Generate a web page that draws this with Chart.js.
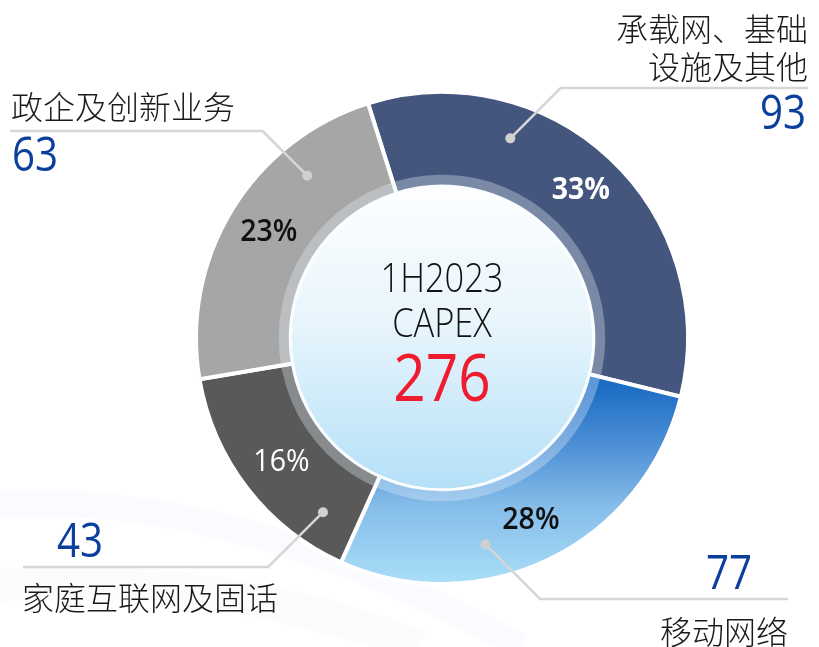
<!DOCTYPE html>
<html>
<head>
<meta charset="utf-8">
<script src="https://cdn.jsdelivr.net/npm/chart.js@4/dist/chart.umd.min.js"></script>
<style>
  html, body { margin: 0; padding: 0; background: #ffffff; }
  #wrap { position: relative; width: 819px; height: 647px; }
  canvas { display: block; }
</style>
</head>
<body>
<div id="wrap"><canvas id="c" width="819" height="647"></canvas></div>
<script>
// ---- data ----
const categories = ['承载网、基础设施及其他', '移动网络', '家庭互联网及固话', '政企及创新业务'];
const labelLines = [['承载网、基础', '设施及其他'], ['移动网络'], ['家庭互联网及固话'], ['政企及创新业务']];
const capexValues = [93, 77, 43, 63];
const percentLabels = ['33%', '28%', '16%', '23%'];
const centerTitle = ['1H2023', 'CAPEX'];
const centerTotal = '276';

// ---- styles ----
const segColors = ['#45567e', 'BLUE_GRADIENT', '#595959', '#a6a6a6'];
const pctStyles = [
  { color: '#ffffff', weight: '700' },
  { color: '#111111', weight: '600' },
  { color: '#ffffff', weight: '400' },
  { color: '#111111', weight: '600' }
];
// annotation layout: dot angle fraction within segment, elbow y, horizontal end x, text anchor
const annot = [
  { frac: 0.30, elbowY: 88,  endX: 808, align: 'right', textX: 808, nameY: [29, 67], numY: 115, numX: 806 },
  { frac: 0.64, elbowY: 599, endX: 788, align: 'right', textX: 788, nameY: [632], numY: 575, numX: 752 },
  { frac: 0.18, elbowY: 567, endX: 23,  align: 'left',  textX: 22,  nameY: [598], numY: 543, numX: 57 },
  { frac: 0.73, elbowY: 131, endX: 10,  align: 'left',  textX: 11,  nameY: [107], numY: 157, numX: 12 }
];

function drawText(ctx, txt, x, y, align, font, color, sq) {
  ctx.save();
  ctx.font = font;
  ctx.fillStyle = color;
  ctx.textBaseline = 'middle';
  ctx.textAlign = align;
  ctx.translate(x, y);
  ctx.scale(sq || 1, 1);
  ctx.fillText(txt, 0, 0);
  ctx.restore();
}

const bgPlugin = {
  id: 'bg',
  beforeDraw(chart) {
    const ctx = chart.ctx;
    ctx.save();
    ctx.fillStyle = '#ffffff';
    ctx.fillRect(0, 0, chart.width, chart.height);
    // faint background waves
    const bands = [
      { a: 0.07, w: 26, p: [[0, 505], [150, 495], [330, 540], [520, 647]] },
      { a: 0.05, w: 34, p: [[0, 585], [150, 575], [300, 600], [420, 647]] }
    ];
    bands.forEach(b => {
      ctx.beginPath();
      ctx.moveTo(b.p[0][0], b.p[0][1]);
      ctx.bezierCurveTo(b.p[1][0], b.p[1][1], b.p[2][0], b.p[2][1], b.p[3][0], b.p[3][1]);
      ctx.strokeStyle = 'rgba(175,200,235,' + b.a + ')';
      ctx.lineWidth = b.w;
      ctx.stroke();
    });
    ctx.restore();
  }
};

const decoPlugin = {
  id: 'deco',
  afterDatasetsDraw(chart) {
    const ctx = chart.ctx;
    const meta = chart.getDatasetMeta(0);
    const arc0 = meta.data[0];
    const cx = arc0.x, cy = arc0.y;
    const inner = arc0.innerRadius, outer = arc0.outerRadius;

    // translucent ring over inner edge
    ctx.save();
    ctx.beginPath();
    ctx.arc(cx, cy, inner + 12, 0, Math.PI * 2);
    ctx.arc(cx, cy, inner, 0, Math.PI * 2, true);
    ctx.fillStyle = 'rgba(235,245,252,0.32)';
    ctx.fill();
    // inner circle
    const g = ctx.createLinearGradient(0, cy - inner, 0, cy + inner);
    g.addColorStop(0, '#fdfeff');
    g.addColorStop(0.45, '#e8f5fc');
    g.addColorStop(1, '#b4e0f8');
    ctx.beginPath();
    ctx.arc(cx, cy, inner - 1, 0, Math.PI * 2);
    ctx.fillStyle = g;
    ctx.fill();
    ctx.restore();

    // center text
    drawText(ctx, centerTitle[0], cx, cy - 57, 'center', '300 40px "Open Sans", Lato, sans-serif', '#111111', 0.86);
    drawText(ctx, centerTitle[1], cx, cy - 12, 'center', '300 40px "Open Sans", Lato, sans-serif', '#111111', 0.86);
    drawText(ctx, centerTotal, cx, cy + 44, 'center', '400 66px "Open Sans", sans-serif', '#ee1c2e', 0.86);

    meta.data.forEach((el, i) => {
      const mid = (el.startAngle + el.endAngle) / 2;
      const rl = outer - 43;
      const st = pctStyles[i];
      drawText(ctx, percentLabels[i], cx + Math.cos(mid) * rl, cy + Math.sin(mid) * rl, 'center',
        st.weight + ' 31px "Open Sans", "Noto Sans", sans-serif', st.color, 0.92);

      // leader line
      const a = annot[i];
      const ang = el.startAngle + a.frac * (el.endAngle - el.startAngle);
      const rd = outer - 35;
      const dx = cx + Math.cos(ang) * rd, dy = cy + Math.sin(ang) * rd;
      const dyv = a.elbowY - dy;
      const ex = dx + Math.sign(a.endX - dx) * Math.abs(dyv);
      ctx.save();
      ctx.strokeStyle = '#d6d6d6';
      ctx.lineWidth = 2.5;
      ctx.beginPath();
      ctx.moveTo(dx, dy);
      ctx.lineTo(ex, a.elbowY);
      ctx.lineTo(a.endX, a.elbowY);
      ctx.stroke();
      ctx.fillStyle = '#d0d0d0';
      ctx.beginPath();
      ctx.arc(dx, dy, 5, 0, Math.PI * 2);
      ctx.fill();
      ctx.restore();

      labelLines[i].forEach((ln, k) => {
        drawText(ctx, ln, a.textX, a.nameY[k], a.align, '300 32px "Noto Sans CJK SC", sans-serif', '#1a1a1a', 1);
      });
      drawText(ctx, String(capexValues[i]), a.numX, a.numY, a.align, '400 48px "Open Sans", "Noto Sans", sans-serif', '#0b3f9e', 0.84);
    });
  }
};

const ctx = document.getElementById('c').getContext('2d');
new Chart(ctx, {
  type: 'doughnut',
  data: {
    labels: categories,
    datasets: [{
      data: capexValues,
      backgroundColor: (c) => {
        const col = segColors[c.dataIndex];
        if (col !== 'BLUE_GRADIENT') return col;
        const g = c.chart.ctx.createLinearGradient(0, 385, 0, 588);
        g.addColorStop(0, '#1b6cc4');
        g.addColorStop(0.3, '#4e90d6');
        g.addColorStop(0.6, '#86bde9');
        g.addColorStop(1, '#ace0f8');
        return g;
      },
      borderColor: '#ffffff',
      borderWidth: 4,
      hoverOffset: 0
    }]
  },
  options: {
    responsive: false,
    animation: false,
    rotation: -17.5,
    radius: 246,
    cutout: '61.5%',
    layout: { padding: { left: 65, right: 0, top: 29, bottom: 0 } },
    plugins: { legend: { display: false }, tooltip: { enabled: false } },
    events: []
  },
  plugins: [bgPlugin, decoPlugin]
});
</script>
</body>
</html>
